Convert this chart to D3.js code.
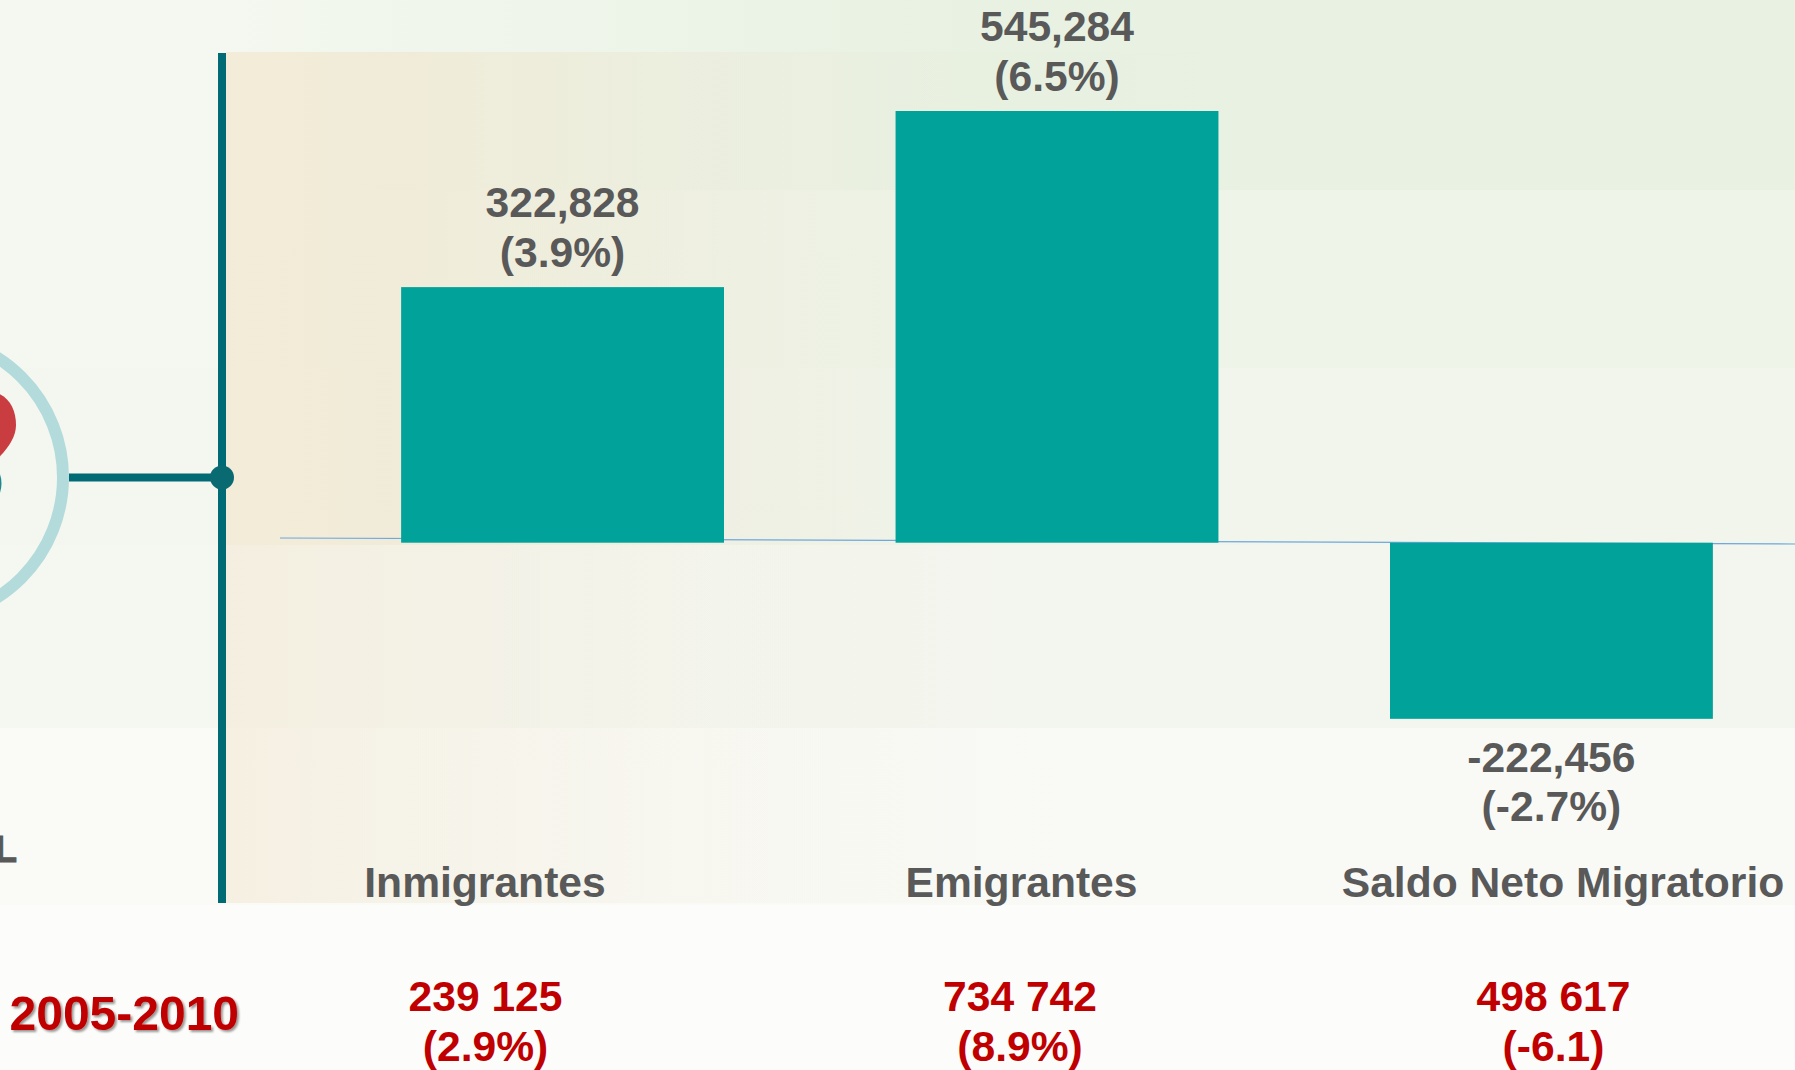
<!DOCTYPE html>
<html>
<head>
<meta charset="utf-8">
<script src="https://cdn.jsdelivr.net/npm/d3@7/dist/d3.min.js"></script>
<style>
html,body{margin:0;padding:0;background:#fcfcfa;overflow:hidden}
svg{display:block}
text{font-family:"Liberation Sans",Arial,sans-serif;font-weight:700}
</style>
</head>
<body>
<svg id="c" width="1795" height="1070"></svg>
<script>
const categories = ["Inmigrantes", "Emigrantes", "Saldo Neto Migratorio"];
const values = [322828, 545284, -222456];
const valueLabels = ["322,828", "545,284", "-222,456"];
const shareLabels = ["(3.9%)", "(6.5%)", "(-2.7%)"];
const periodLabel = "2005-2010";
const priorValues = ["239 125", "734 742", "498 617"];
const priorShares = ["(2.9%)", "(8.9%)", "(-6.1)"];

const W = 1795, H = 1070;
const svg = d3.select("#c");
const defs = svg.append("defs");

function grad(id, stops) {
  const g = defs.append("linearGradient").attr("id", id)
    .attr("x1", 0).attr("y1", 0).attr("x2", 1).attr("y2", 0);
  stops.forEach(s => g.append("stop").attr("offset", s[0]).attr("stop-color", s[1]).attr("stop-opacity", s[2] === undefined ? 1 : s[2]));
}

// Soft banded page background (stepped like the reference)
const bands = [
  [0, 190, "#f4f8f0", "#e8f1e2"],
  [190, 368, "#f4f8f0", "#eef4e8"],
  [368, 545, "#f4f7f0", "#f1f5ec"],
  [545, 728, "#f5f7f1", "#f3f6ef"],
  [728, 905, "#fafbf7", "#f9faf6"],
  [905, 1070, "#fcfcfa", "#fcfcfa"]
];
bands.forEach((b, i) => {
  grad("band" + i, [[0, b[2]], [0.12, b[2]], [0.55, b[3]], [1, b[3]]]);
  svg.append("rect").attr("x", 0).attr("y", b[0]).attr("width", W).attr("height", b[1] - b[0]).attr("fill", `url(#band${i})`);
});

// Beige wash in the chart panel
grad("panelTop", [[0, "#f2e8d0", 0.75], [0.12, "#efe7d0", 0.7], [0.3, "#ebe8d4", 0.45], [0.5, "#e9ecd9", 0.15], [0.65, "#e9ecd9", 0]]);
grad("panelLow", [[0, "#f3ead6", 0.65], [0.15, "#f2ebda", 0.45], [0.35, "#f2eddf", 0.2], [0.55, "#f2eddf", 0]]);
svg.append("rect").attr("x", 226).attr("y", 52).attr("width", W - 226).attr("height", 493).attr("fill", "url(#panelTop)");
svg.append("rect").attr("x", 226).attr("y", 545).attr("width", W - 226).attr("height", 358).attr("fill", "url(#panelLow)");

// Scales
const x = d3.scaleBand().domain(categories).range([280, 1834]).paddingInner(0.347).paddingOuter(0.245);
const y = d3.scaleLinear().domain([0, 545284]).range([542.7, 111]);
const labelX = d3.scaleOrdinal().domain(categories).range([485, 1021.5, 1563]);
const priorX = d3.scaleOrdinal().domain(priorValues).range([485.5, 1020, 1553.5]);

// Baseline (slightly tilted, as in the reference)
svg.append("path")
  .attr("d", d3.line()([[280, 538], [W, 544]]))
  .attr("stroke", "#6fa8dc").attr("stroke-width", 1.2).attr("fill", "none");

// Bars
svg.selectAll("rect.bar").data(values).join("rect").attr("class", "bar")
  .attr("x", (d, i) => x(categories[i]))
  .attr("width", x.bandwidth())
  .attr("y", d => Math.min(y(d), y(0)))
  .attr("height", d => Math.abs(y(d) - y(0)))
  .attr("fill", "#00a29a");

// Bar labels
const lineGap = 49.3;
values.forEach((v, i) => {
  const cx = x(categories[i]) + x.bandwidth() / 2;
  const base = v >= 0 ? y(v) - 20.5 - lineGap : y(v) + 53;
  const t = svg.append("text").attr("text-anchor", "middle").attr("font-size", 42.6).attr("fill", "#595959");
  t.append("tspan").attr("x", cx).attr("y", base).text(valueLabels[i]);
  t.append("tspan").attr("x", cx).attr("y", base + lineGap).text(shareLabels[i]);
});

// Category labels
svg.selectAll("text.cat").data(categories).join("text").attr("class", "cat")
  .attr("x", d => labelX(d)).attr("y", 897)
  .attr("text-anchor", "middle").attr("font-size", 42.6).attr("fill", "#595959")
  .text(d => d);

// Connector and decorations
svg.append("circle").attr("cx", -79).attr("cy", 477.5).attr("r", 142).attr("fill", "none").attr("stroke", "#b3dbdb").attr("stroke-width", 12);
svg.append("path").attr("d", "M-20,392 C4,388 16,405 16,425 C16,437 8,449 -4,460 L-20,460 Z").attr("fill", "#c93c40");
svg.append("ellipse").attr("cx", -30).attr("cy", 483.5).attr("rx", 31.5).attr("ry", 30).attr("fill", "#1a8a90");
svg.append("line").attr("x1", 69).attr("x2", 222).attr("y1", 477.5).attr("y2", 477.5).attr("stroke", "#006b75").attr("stroke-width", 8);
svg.append("line").attr("x1", 222).attr("x2", 222).attr("y1", 53).attr("y2", 903).attr("stroke", "#006b75").attr("stroke-width", 8);
svg.append("circle").attr("cx", 222).attr("cy", 477.5).attr("r", 12).attr("fill", "#0a6a72");
svg.append("text").attr("x", -5).attr("y", 862).attr("font-size", 36).attr("fill", "#595959").attr("stroke", "#595959").attr("stroke-width", 1).text("L");

// Red row
defs.append("filter").attr("id", "sh").attr("x", "-5%").attr("y", "-15%").attr("width", "110%").attr("height", "130%")
  .append("feDropShadow").attr("dx", 2).attr("dy", 2).attr("stdDeviation", 1.2).attr("flood-color", "#000").attr("flood-opacity", 0.4);
svg.append("text").attr("x", 9.5).attr("y", 1030).attr("font-size", 48).attr("fill", "#c00000").attr("filter", "url(#sh)").text(periodLabel);
priorValues.forEach((v, i) => {
  const t = svg.append("text").attr("text-anchor", "middle").attr("font-size", 42.6).attr("fill", "#c00000");
  t.append("tspan").attr("x", priorX(v)).attr("y", 1010.5).text(v);
  t.append("tspan").attr("x", priorX(v)).attr("y", 1060.5).text(priorShares[i]);
});
</script>
</body>
</html>
